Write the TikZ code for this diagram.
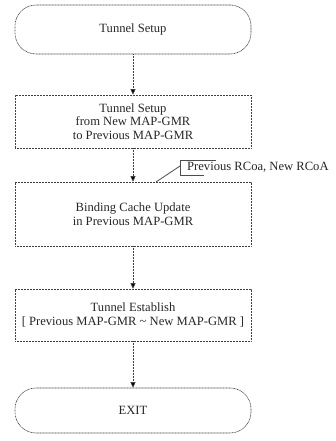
\documentclass[tikz,border=0pt]{standalone}
\usepackage{fontspec}
\setmainfont{Liberation Serif}
\usetikzlibrary{arrows.meta,calc}

\tikzset{
  flowline/.style={draw=black!75, line width=0.6pt, dash pattern=on 0.9pt off 0.6pt},
  noteline/.style={draw=black!70, line width=0.85pt, dash pattern=on 1.6pt off 0.4pt},
  terminal/.style={flowline, rectangle, rounded corners=21pt, minimum width=236pt, inner sep=2pt},
  process/.style={flowline, rectangle, minimum width=236pt, inner sep=2pt, align=center},
  flowarrow/.style={flowline, -{Triangle[length=5.5pt,width=5pt,fill=black]}},
  txt/.style={font=\fontsize{12.6}{13.5}\selectfont, text=black!85}
}

\begin{document}
\begin{tikzpicture}[x=1pt,y=-1pt]
  \useasboundingbox (0,0) rectangle (335,441);

  % flow steps
  \node[terminal, txt, minimum height=49pt] (start) at (133,29.5) {Tunnel Setup};
  \node[process, txt, minimum height=53pt] (setup) at (133,121.5)
    {Tunnel Setup\\from New MAP-GMR\\to Previous MAP-GMR};
  \node[process, txt, minimum height=64pt] (cache) at (133,214)
    {Binding Cache Update\\in Previous MAP-GMR};
  \node[process, txt, minimum height=52pt] (establish) at (133,315)
    {Tunnel Establish\\{[} Previous MAP-GMR \textasciitilde{} New MAP-GMR {]}};
  \node[terminal, txt, minimum height=45pt] (exit) at (133,410.5) {EXIT};

  % connectors
  \draw[flowarrow] (start.south) -- (setup.north);
  \draw[flowarrow] (setup.south) -- (cache.north);
  \draw[flowarrow] (cache.south) -- (establish.north);
  \draw[flowarrow] (establish.south) -- (exit.north);

  % annotation on the cache update step
  \coordinate (foot) at (156,182);
  \coordinate (knee) at (180,166);
  \draw[noteline] (foot) -- (knee);
  \draw[noteline] (216,160) -- (180,160) -- (180,175) -- (204,175);
  \node[txt, anchor=west, inner sep=0pt] (note) at (187,167) {Previous RCoa, New RCoA};
\end{tikzpicture}
\end{document}
